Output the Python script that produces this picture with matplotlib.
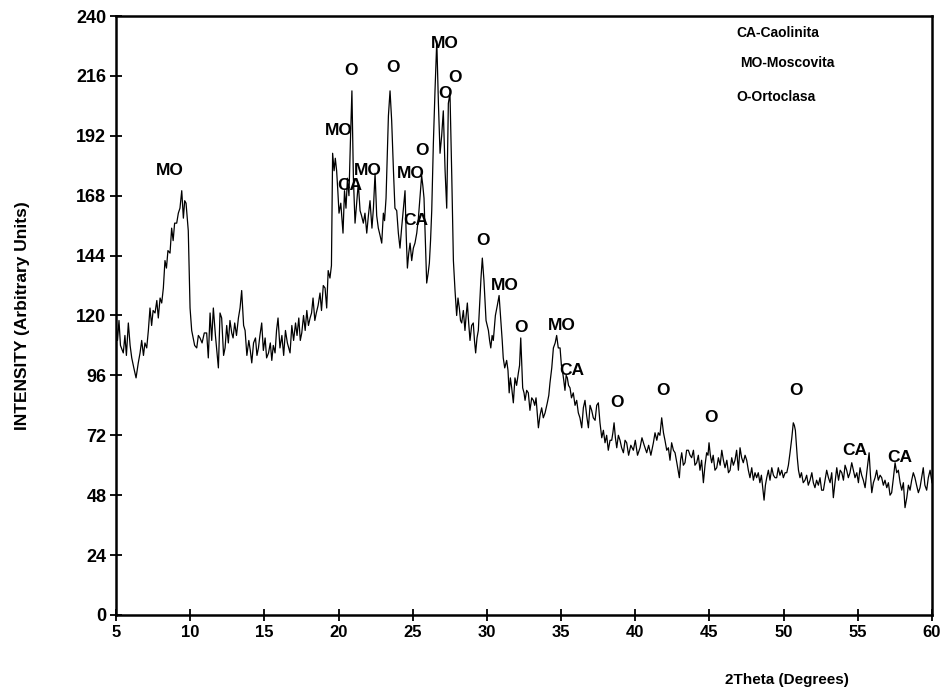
import numpy as np
import matplotlib.pyplot as plt

# 2theta (degrees) and intensity
two_theta = [
    5.0, 5.1, 5.2, 5.3, 5.49, 5.6, 5.7, 5.83, 5.95, 6.06, 6.2, 6.35, 6.5, 6.62, 6.73, 6.85, 6.95, 7.07,
    7.18, 7.29, 7.4, 7.5, 7.63, 7.75, 7.85, 7.97, 8.08, 8.19, 8.3, 8.4, 8.5, 8.64, 8.75, 8.85, 8.95,
    9.09, 9.2, 9.31, 9.43, 9.54, 9.63, 9.72, 9.87, 9.99, 10.1, 10.2, 10.3, 10.44, 10.55, 10.66, 10.8,
    10.95, 11.11, 11.22, 11.34, 11.45, 11.56, 11.7, 11.9, 12.01, 12.12, 12.25, 12.35, 12.46, 12.57,
    12.68, 12.8, 12.89, 13.0, 13.12, 13.25, 13.36, 13.47, 13.6, 13.7, 13.82, 13.95, 14.05, 14.15,
    14.27, 14.4, 14.5, 14.6, 14.7, 14.82, 14.93, 15.05, 15.15, 15.28, 15.4, 15.5, 15.6, 15.72, 15.82,
    15.92, 16.05, 16.18, 16.3, 16.42, 16.55, 16.73, 16.85, 16.97, 17.1, 17.2, 17.32, 17.42, 17.52,
    17.64, 17.75, 17.86, 17.97, 18.08, 18.18, 18.28, 18.4, 18.5, 18.62, 18.75, 18.85, 18.97, 19.09,
    19.2, 19.3, 19.42, 19.52, 19.6, 19.7, 19.78, 19.87, 19.95, 20.03, 20.15, 20.3, 20.4, 20.5, 20.6,
    20.7, 20.8, 20.9, 21.0, 21.11, 21.22, 21.33, 21.45, 21.55, 21.67, 21.78, 21.9, 22.01, 22.12,
    22.25, 22.35, 22.46, 22.57, 22.68, 22.8, 22.91, 23.02, 23.1, 23.2, 23.36, 23.47, 23.58, 23.7,
    23.8, 23.92, 24.03, 24.14, 24.25, 24.36, 24.48, 24.56, 24.64, 24.73, 24.82, 24.93, 25.04, 25.15,
    25.27, 25.38, 25.5, 25.6, 25.68, 25.76, 25.85, 25.94, 26.04, 26.12, 26.2, 26.28, 26.39, 26.5,
    26.62, 26.73, 26.84, 26.95, 27.06, 27.18, 27.29, 27.4, 27.51, 27.63, 27.74, 27.85, 27.96, 28.05,
    28.14, 28.22, 28.3, 28.41, 28.52, 28.6, 28.68, 28.77, 28.86, 28.97, 29.08, 29.16, 29.24, 29.33,
    29.42, 29.53, 29.6, 29.69, 29.8, 29.94, 30.02, 30.1, 30.18, 30.26, 30.35, 30.43, 30.57, 30.7,
    30.82, 30.95, 31.03, 31.1, 31.2, 31.33, 31.42, 31.5, 31.58, 31.67, 31.78, 31.89, 32.0, 32.12,
    32.2, 32.28, 32.34, 32.41, 32.5, 32.57, 32.68, 32.79, 32.9, 33.02, 33.13, 33.22, 33.31, 33.4,
    33.47, 33.58, 33.69, 33.8, 33.92, 34.07, 34.17, 34.25, 34.37, 34.48, 34.6, 34.7, 34.81, 34.93,
    35.02, 35.11, 35.18, 35.26, 35.34, 35.42, 35.5, 35.6, 35.7, 35.82, 35.94, 36.05, 36.16, 36.27,
    36.39, 36.5, 36.61, 36.72, 36.84, 36.95, 37.06, 37.17, 37.29, 37.4, 37.51, 37.62, 37.74, 37.85,
    37.96, 38.07, 38.18, 38.3, 38.41, 38.49, 38.57, 38.66, 38.75, 38.86, 38.97, 39.08, 39.2, 39.31,
    39.42, 39.55, 39.7, 39.87, 40.0, 40.15, 40.32, 40.45, 40.6, 40.77, 40.9, 41.05, 41.22, 41.33,
    41.45, 41.55, 41.66, 41.78, 41.9, 42.0, 42.12, 42.23, 42.34, 42.45, 42.57, 42.68, 42.8, 42.97,
    43.05, 43.13, 43.24, 43.35, 43.46, 43.58, 43.69, 43.8, 43.92, 44.02, 44.14, 44.25, 44.36, 44.47,
    44.59, 44.7, 44.81, 44.9, 44.97, 45.06, 45.15, 45.25, 45.37, 45.49, 45.6, 45.72, 45.83, 45.94,
    46.05, 46.17, 46.28, 46.39, 46.5, 46.61, 46.72, 46.83, 46.95, 47.06, 47.17, 47.28, 47.4, 47.51,
    47.62, 47.73, 47.85, 47.96, 48.07, 48.18, 48.29, 48.4, 48.5, 48.59, 48.68, 48.77, 48.86, 48.97,
    49.08, 49.2, 49.31, 49.42, 49.53, 49.64, 49.75, 49.87, 49.98, 50.1, 50.21, 50.32, 50.43, 50.55,
    50.65, 50.72, 50.79, 50.86, 50.92, 51.0, 51.1, 51.2, 51.32, 51.44, 51.55, 51.66, 51.78, 51.9,
    52.0, 52.11, 52.22, 52.34, 52.45, 52.56, 52.68, 52.79, 52.9, 53.02, 53.13, 53.24, 53.35, 53.46,
    53.58, 53.7, 53.81, 53.92, 54.03, 54.14, 54.25, 54.36, 54.47, 54.59, 54.7, 54.81, 54.93, 55.04,
    55.15, 55.26, 55.37, 55.49, 55.6, 55.7, 55.76, 55.85, 55.94, 56.05, 56.16, 56.27, 56.38, 56.5,
    56.61, 56.72, 56.83, 56.95, 57.06, 57.17, 57.28, 57.4, 57.51, 57.62, 57.73, 57.85, 57.96, 58.07,
    58.18, 58.3, 58.41, 58.52, 58.63, 58.74, 58.85, 58.96, 59.08, 59.19, 59.3, 59.41, 59.52, 59.64,
    59.75, 59.87, 60.0,
]
intensity = [
    117, 110, 118, 108, 105, 112, 104, 117, 108, 103, 99, 95, 101, 105, 110, 104, 109, 107,
    114, 123, 116, 122, 121, 126, 119, 127, 125, 131, 142, 139, 146, 145, 155, 150, 157,
    157, 161, 163, 170, 159, 166, 165, 154, 123, 114, 111, 108, 107, 112, 111, 109,
    113, 113, 103, 121, 110, 123, 112, 99, 121, 119, 104, 107, 116, 109,
    118, 113, 111, 117, 112, 119, 123, 130, 116, 114, 104, 110, 106, 101,
    109, 111, 104, 107, 112, 117, 106, 111, 103, 105, 109, 102, 108, 105, 114,
    119, 107, 112, 104, 114, 109, 105, 116, 110, 117, 112, 119, 110, 113,
    120, 114, 122, 116, 119, 121, 127, 118, 121, 124, 129, 122, 132, 131,
    123, 138, 135, 140, 185, 178, 183, 178, 170, 161, 165, 153, 170, 163, 175,
    168, 190, 210, 175, 157, 165, 173, 162, 160, 157, 161, 153, 160, 166,
    155, 163, 177, 160, 155, 152, 149, 161, 158, 167, 200, 210, 198, 178,
    163, 162, 153, 147, 155, 162, 170, 152, 139, 145, 149, 142, 147, 149,
    153, 159, 168, 176, 172, 167, 150, 133, 137, 141, 150, 162, 189, 210,
    230, 205, 185, 192, 202, 178, 163, 205, 209, 176, 142, 130, 120, 127,
    123, 118, 117, 122, 114, 120, 125, 117, 110, 116, 117, 110, 105, 111,
    114, 127, 135, 143, 134, 118, 116, 114, 110, 107, 112, 110, 120, 124,
    128, 117, 110, 103, 99, 102, 98, 89, 95, 91, 85, 95, 92, 97,
    100, 111, 102, 91, 89, 86, 90, 89, 82, 87, 86, 84, 87, 80,
    75, 80, 83, 79, 81, 85, 88, 93, 99, 107, 109, 112, 107, 107,
    100, 97, 94, 90, 96, 95, 92, 91, 87, 89, 84, 86, 81, 79,
    75, 83, 86, 80, 75, 84, 82, 79, 78, 84, 85, 77, 71, 74,
    69, 72, 66, 70, 70, 73, 77, 71, 67, 72, 70, 67, 65, 70,
    69, 64, 68, 66, 70, 64, 67, 71, 68, 65, 68, 64, 69, 73,
    70, 73, 72, 79, 73, 70, 66, 67, 62, 69, 66, 65, 61, 55,
    62, 65, 60, 61, 66, 66, 64, 63, 66, 60, 61, 64, 58, 62,
    53, 60, 65, 64, 69, 64, 61, 64, 58, 59, 63, 60, 66, 62,
    59, 62, 57, 58, 63, 60, 62, 66, 58, 67, 63, 61, 64, 62,
    58, 55, 59, 54, 57, 55, 57, 53, 56, 51, 46, 52, 55, 58,
    54, 59, 56, 55, 55, 59, 56, 58, 55, 57, 57, 60, 65, 71,
    77, 76, 74, 68, 63, 58, 55, 57, 53, 54, 56, 52, 54, 57,
    53, 51, 54, 52, 55, 50, 50, 54, 58, 55, 53, 57, 47, 53,
    59, 54, 58, 57, 54, 60, 58, 55, 57, 61, 58, 55, 57, 53,
    59, 56, 54, 51, 57, 62, 65, 56, 49, 53, 55, 58, 54, 56,
    55, 52, 54, 51, 53, 48, 49, 55, 61, 57, 58, 53, 50, 53,
    43, 47, 52, 50, 54, 57, 55, 52, 49, 51, 55, 59, 52, 50,
    55, 58, 53,
]

# peak labels: text, 2theta, intensity
peak_text = ['MO', 'MO', 'CA', 'O', 'MO', 'O', 'MO', 'CA', 'O', 'MO', 'O', 'O',
             'O', 'MO', 'O', 'MO', 'CA', 'O', 'O', 'O', 'O', 'CA', 'CA']
peak_x = [8.64, 20.03, 20.77, 20.84, 21.99, 23.67, 24.88, 25.22, 25.63, 27.18, 27.85, 27.18,
          29.74, 31.22, 32.3, 35.06, 35.74, 38.77, 41.87, 45.1, 50.83, 54.81, 57.84]
peak_y = [178, 194, 172, 218, 178, 219.5, 177, 158, 186, 229, 215.5, 209,
          150, 132, 115, 116, 98, 85, 90, 79, 90, 66, 63]

legend_lines = ['CA-Caolinita', 'MO-Moscovita', 'O-Ortoclasa']
legend_x = [46.8, 47.05, 46.8]
legend_y = [233, 221, 207.5]

fig = plt.figure(figsize=(9.44, 6.93), dpi=100)
ax = fig.add_axes([0.1229, 0.1126, 0.8644, 0.8643])

ax.plot(two_theta, intensity, color='black', linewidth=0.9)

for t, x, y in zip(peak_text, peak_x, peak_y):
    ax.text(x, y, t, ha='center', va='center', fontsize=12.5, fontweight='bold',
            family='Liberation Sans')
for t, x, y in zip(legend_lines, legend_x, legend_y):
    ax.text(x, y, t, ha='left', va='center', fontsize=10, fontweight='bold',
            family='Liberation Sans')

ax.set_xlim(5, 60)
ax.set_ylim(0, 240)
ax.set_xticks(np.arange(5, 61, 5))
ax.set_yticks(np.arange(0, 241, 24))
ax.tick_params(direction='inout', length=8, width=1.3, pad=3)
for lab in ax.get_yticklabels():
    lab.set_fontweight('bold')
    lab.set_family('Liberation Sans')
    lab.set_fontsize(13)
for lab in ax.get_xticklabels():
    lab.set_fontweight('bold')
    lab.set_family('Liberation Sans')
    lab.set_fontsize(12)
for s in ax.spines.values():
    s.set_linewidth(1.8)

ax.set_ylabel('INTENSITY (Arbitrary Units)', fontsize=12.5, fontweight='bold',
              family='Liberation Sans')
ax.yaxis.set_label_coords(-0.105, 0.5)
fig.text(787 / 944, 1 - 680 / 693, '2Theta (Degrees)', ha='center', va='center',
         fontsize=11, fontweight='bold', family='Liberation Sans')

fig.savefig('out.png', dpi=100)
